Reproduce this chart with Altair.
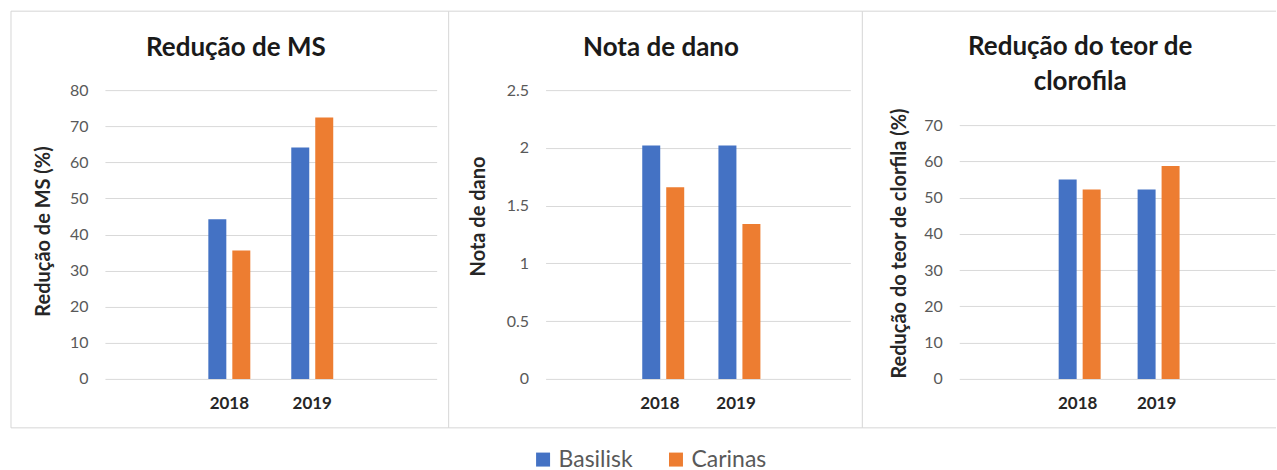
import altair as alt
import pandas as pd

# Categories and series
years = ["2018", "2019"]
cultivars = ["Basilisk", "Carinas"]
colors = ["#4472C4", "#ED7D31"]

# Redução de MS (%)
ms_basilisk = [44.2, 64.1]
ms_carinas = [35.6, 72.4]

# Nota de dano
dano_basilisk = [2.02, 2.02]
dano_carinas = [1.66, 1.34]

# Redução do teor de clorofila (%)
cloro_basilisk = [55.0, 52.2]
cloro_carinas = [52.2, 58.7]

# Axis ticks
ms_ticks = [0, 10, 20, 30, 40, 50, 60, 70, 80]
dano_ticks = [0, 0.5, 1, 1.5, 2, 2.5]
cloro_ticks = [0, 10, 20, 30, 40, 50, 60, 70]

FONT = "Lato"
GRID = "#d9d9d9"
FRAME = "#d6d6d6"
PLOT_H = 289


def table(basilisk, carinas):
    rows = []
    for i, ano in enumerate(years):
        rows.append({"ano": ano, "cultivar": cultivars[0], "valor": basilisk[i]})
        rows.append({"ano": ano, "cultivar": cultivars[1], "valor": carinas[i]})
    return pd.DataFrame(rows)


one_row = pd.DataFrame({"k": [0]})


def segment(x, y, x2, y2):
    # thin grey frame line around a panel (pixel offsets from the plot origin)
    return alt.Chart(one_row).mark_rule(color=FRAME, strokeWidth=1).encode(
        x=alt.value(x), y=alt.value(y), x2=alt.value(x2), y2=alt.value(y2)
    )


def panel(df, title, ytitle, domain, ticks, fmt, width, title_dx, title_offset,
          frame, ytitle_y, title_pad=16):
    y_axis = alt.Axis(
        values=ticks, format=fmt, title=ytitle, ticks=False, domain=False,
        grid=True, gridColor=GRID, gridWidth=1,
        labelFont=FONT, labelFontSize=16, labelColor="#595959", labelPadding=17,
        titleFont=FONT, titleFontSize=20, titleFontWeight="bold",
        titleColor="#262626", titlePadding=title_pad, titleY=ytitle_y,
    )
    bars = alt.Chart(df).mark_bar().encode(
        x=alt.X(
            "ano:N", sort=years,
            scale=alt.Scale(domain=years, paddingInner=0, paddingOuter=1),
            axis=alt.Axis(
                title=None, labelAngle=0, ticks=False, domain=False, grid=False,
                labelFont=FONT, labelFontSize=17, labelFontWeight="bold",
                labelColor="#262626", labelPadding=17,
            ),
        ),
        xOffset=alt.XOffset(
            "cultivar:N",
            scale=alt.Scale(domain=cultivars, paddingInner=0.25, paddingOuter=0.854),
        ),
        y=alt.Y("valor:Q", scale=alt.Scale(domain=domain, nice=False, zero=True),
                axis=y_axis),
        color=alt.Color(
            "cultivar:N",
            scale=alt.Scale(domain=cultivars, range=colors),
            legend=alt.Legend(title=None),
        ),
    )
    layers = [bars] + [segment(*s) for s in frame]
    return alt.layer(*layers).properties(
        width=width,
        height=PLOT_H,
        title=alt.TitleParams(
            text=title, anchor="middle", frame="group", dx=title_dx,
            offset=title_offset, baseline="middle", font=FONT, fontSize=26,
            fontWeight="bold", color="#1a1a1a", lineHeight=35,
        ),
    )


p1 = panel(
    table(ms_basilisk, ms_carinas), "Redução de MS", "Redução de MS (%)",
    [0, 80], ms_ticks, "d", 332, -35, -63,
    frame=[(-94, -79, 344, -79), (-94, 338, 344, 338),
           (-94, -79, -94, 338), (344, -79, 344, 338)],
    ytitle_y=141,
)
p2 = panel(
    table(dano_basilisk, dano_carinas), "Nota de dano", "Nota de dano",
    [0, 2.5], dano_ticks, "~g", 305, -37, -63,
    frame=[(-97, -79, 317, -79), (-97, 338, 317, 338), (317, -79, 317, 338)],
    ytitle_y=126, title_pad=18,
)
p3 = panel(
    table(cloro_basilisk, cloro_carinas), ["Redução do teor de", "clorofila"],
    "Redução do teor de clorfila (%)",
    [0, 70 * 289 / 254], cloro_ticks, "d", 316, -37, -97,
    frame=[(-97, -79, 317, -79), (-97, 338, 317, 338)],
    ytitle_y=153, title_pad=14,
)

chart = (
    alt.hconcat(p1, p2, p3, spacing=109, bounds="flush")
    .properties(padding={"left": 10, "top": 10, "right": 0, "bottom": 0},
                background="white")
    .configure_view(stroke=None)
    .configure_legend(
        orient="none", legendX=427, legendY=358, direction="horizontal",
        symbolType="square", symbolSize=196, symbolStrokeWidth=0,
        labelFont=FONT, labelFontSize=23, labelColor="#595959",
        labelOffset=4, columnPadding=31, padding=0,
    )
)

chart.save("out.html", embed_options={"renderer": "svg", "actions": False})
